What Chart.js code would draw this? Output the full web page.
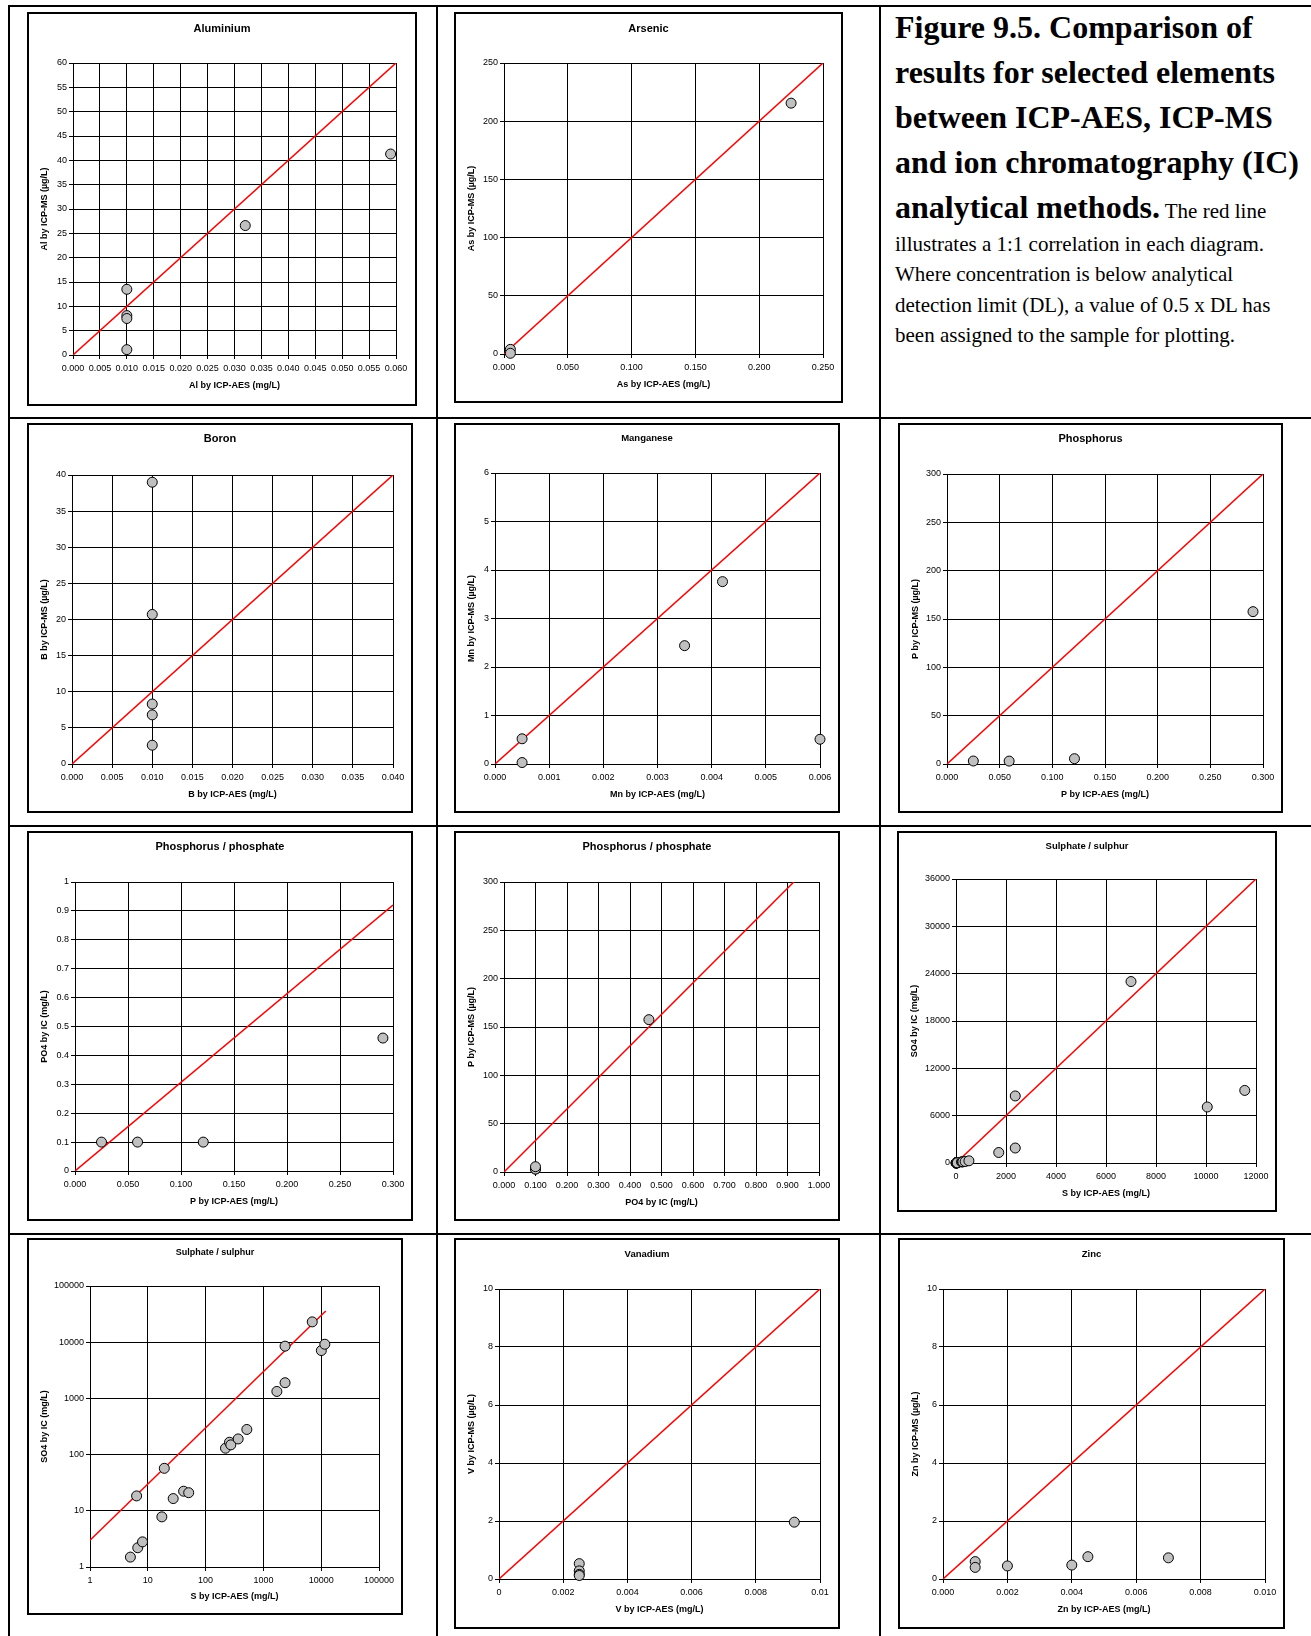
<!DOCTYPE html>
<html>
<head>
<meta charset="utf-8">
<title>Figure 9.5</title>
<script src="https://cdn.jsdelivr.net/npm/chart.js@4.4.1/dist/chart.umd.min.js"></script>
<style>
  html, body { margin: 0; padding: 0; background: #fff; }
  body { position: relative; width: 1311px; height: 1636px; overflow: hidden; }
  .rule { position: absolute; background: #000; }
  .box { position: absolute; border: 2px solid #000; box-sizing: border-box; }
  canvas { position: absolute; }
  .head { position: absolute; left: 895px; top: 5px; font-family: "Liberation Serif", "Times New Roman", serif;
          font-weight: bold; font-size: 32px; line-height: 45px; white-space: nowrap; color: #000; }
  .head span { font-weight: normal; font-size: 21px; }
  .note { position: absolute; left: 895px; top: 229px; font-family: "Liberation Serif", "Times New Roman", serif;
          font-size: 21px; line-height: 30.3px; white-space: nowrap; color: #000; }
</style>
</head>
<body>
<div class="rule" style="left:8px;top:5px;width:1303px;height:2px"></div>
<div class="rule" style="left:8px;top:5px;width:2px;height:1631px"></div>
<div class="rule" style="left:436px;top:5px;width:2px;height:1631px"></div>
<div class="rule" style="left:879px;top:5px;width:2px;height:1631px"></div>
<div class="rule" style="left:8px;top:417px;width:1303px;height:2px"></div>
<div class="rule" style="left:8px;top:825px;width:1303px;height:2px"></div>
<div class="rule" style="left:8px;top:1233px;width:1303px;height:2px"></div>

<div class="head">Figure 9.5. Comparison of<br>results for selected elements<br>between ICP-AES, ICP-MS<br>and ion chromatography (IC)<br>analytical methods.<span> The red line</span></div>
<div class="note">illustrates a 1:1 correlation in each diagram.<br>Where concentration is below analytical<br>detection limit (DL), a value of 0.5 x DL has<br>been assigned to the sample for plotting.</div>

<script>
// ---------- data ----------
const alAES = [0.010, 0.010, 0.010, 0.010, 0.032, 0.059];
const alMS = [13.5, 8.1, 7.5, 1.1, 26.6, 41.3];
const alLineX = [0, 0.06], alLineY = [0, 60];
const alTicksX = [0, 0.005, 0.01, 0.015, 0.02, 0.025, 0.03, 0.035, 0.04, 0.045, 0.05, 0.055, 0.06];
const alTicksY = [0, 5, 10, 15, 20, 25, 30, 35, 40, 45, 50, 55, 60];

const asAES = [0.005, 0.005, 0.225];
const asMS = [4, 0.6, 215.5];
const asLineX = [0, 0.25], asLineY = [0, 250];
const asTicksX = [0, 0.05, 0.1, 0.15, 0.2, 0.25];
const asTicksY = [0, 50, 100, 150, 200, 250];

const bAES = [0.010, 0.010, 0.010, 0.010, 0.010];
const bMS = [39, 20.7, 8.3, 6.8, 2.6];
const bLineX = [0, 0.04], bLineY = [0, 40];
const bTicksX = [0, 0.005, 0.01, 0.015, 0.02, 0.025, 0.03, 0.035, 0.04];
const bTicksY = [0, 5, 10, 15, 20, 25, 30, 35, 40];

const mnAES = [0.0005, 0.0005, 0.0035, 0.0042, 0.006];
const mnMS = [0.52, 0.03, 2.44, 3.76, 0.51];
const mnLineX = [0, 0.006], mnLineY = [0, 6];
const mnTicksX = [0, 0.001, 0.002, 0.003, 0.004, 0.005, 0.006];
const mnTicksY = [0, 1, 2, 3, 4, 5, 6];

const pAES = [0.025, 0.059, 0.121, 0.2905];
const pMS = [3.1, 3, 5.5, 157.6];
const po4IC = [0.1, 0.1, 0.1, 0.46];
const pLineX = [0, 0.3], pLineY = [0, 300];
const pTicksX = [0, 0.05, 0.1, 0.15, 0.2, 0.25, 0.3];
const pTicksY = [0, 50, 100, 150, 200, 250, 300];
const ppo4LineX = [0, 0.3], ppo4LineY = [0, 0.92];
const ppo4TicksY = [0, 0.1, 0.2, 0.3, 0.4, 0.5, 0.6, 0.7, 0.8, 0.9, 1];
const po4pLineX = [0, 0.92], po4pLineY = [0, 300];
const po4TicksX = [0, 0.1, 0.2, 0.3, 0.4, 0.5, 0.6, 0.7, 0.8, 0.9, 1];

const sAES = [5, 6.7, 8.1, 6.4, 17.5, 19.3, 27.5, 41.6, 51, 221, 259, 273, 366, 517, 1710, 2370, 2370, 7000, 10050, 11550];
const so4IC = [1.5, 2.2, 2.8, 18.4, 7.8, 57, 16.5, 22.3, 21, 130, 166, 149, 190, 280, 1330, 1900, 8500, 23000, 7100, 9200];
const sLineX = [0, 12000], sLineY = [0, 36000];
const sTicksX = [0, 2000, 4000, 6000, 8000, 10000, 12000];
const sTicksY = [0, 6000, 12000, 18000, 24000, 30000, 36000];
const sLogLineX = [1, 12000], sLogLineY = [3, 36000];
const logTicks = [1, 10, 100, 1000, 10000, 100000];

const vAES = [0.0025, 0.0025, 0.0025, 0.0025, 0.0092];
const vMS = [0.53, 0.28, 0.16, 0.12, 1.96];
const vLineX = [0, 0.01], vLineY = [0, 10];
const vTicksX = [0, 0.002, 0.004, 0.006, 0.008, 0.01];
const vTicksY = [0, 2, 4, 6, 8, 10];

const znAES = [0.001, 0.001, 0.002, 0.004, 0.0045, 0.007];
const znMS = [0.6, 0.4, 0.45, 0.48, 0.77, 0.73];
const znLineX = [0, 0.01], znLineY = [0, 10];

// ---------- helpers ----------
const SANS = '"Liberation Sans", Arial, sans-serif';
const fix3 = v => Number(v).toFixed(3);
const plain = v => String(Number(Number(v).toFixed(4)));

function pts(xs, ys) {
  return xs.map((x, i) => ({ x: x, y: ys[i] }));
}

function eje(tipo, ticks, fmt, size, horiz) {
  return {
    type: tipo,
    min: ticks[0],
    max: ticks[ticks.length - 1],
    afterBuildTicks: s => { s.ticks = ticks.map(v => ({ value: v })); },
    afterFit: s => { if (horiz) s.height = size; else s.width = size; },
    grid: { color: '#000', lineWidth: 1, tickLength: 4, tickColor: '#000' },
    border: { color: '#000', width: 1 },
    ticks: {
      autoSkip: false, maxRotation: 0, minRotation: 0,
      padding: horiz ? 4 : 2, color: '#000',
      font: { family: SANS, size: 9 },
      callback: v => fmt(v)
    }
  };
}

function grafico(c) {
  const [x0, y0, x1, y1] = c.box;
  const [px0, py0, px1, py1] = c.plot;
  const cv = document.createElement('canvas');
  cv.width = x1 - x0;
  cv.height = y1 - y0;
  cv.style.left = x0 + 'px';
  cv.style.top = y0 + 'px';
  document.body.appendChild(cv);
  const marco = document.createElement('div');
  marco.className = 'box';
  marco.style.cssText = `left:${x0}px;top:${y0}px;width:${x1 - x0}px;height:${y1 - y0}px`;
  document.body.appendChild(marco);

  const textos = {
    id: 'textos',
    afterDraw(chart) {
      const { ctx, chartArea: a } = chart;
      ctx.save();
      ctx.fillStyle = '#000';
      ctx.textAlign = 'center';
      ctx.textBaseline = 'middle';
      ctx.font = `bold ${c.titleSize}px ${SANS}`;
      ctx.fillText(c.title, chart.width / 2, c.titleY - y0);
      ctx.font = `bold 9px ${SANS}`;
      ctx.fillText(c.xTitle, (a.left + a.right) / 2, a.bottom + (c.xOff || 31));
      ctx.translate(18, (a.top + a.bottom) / 2);
      ctx.rotate(-Math.PI / 2);
      ctx.fillText(c.yTitle, 0, 0);
      ctx.restore();
    }
  };

  new Chart(cv, {
    type: 'scatter',
    data: {
      datasets: [
        {
          data: pts(c.x, c.y),
          pointRadius: 5, pointHoverRadius: 5,
          pointBackgroundColor: '#c0c0c0', pointBorderColor: '#000', pointBorderWidth: 1,
          clip: false, order: 0
        },
        {
          data: pts(c.lineX, c.lineY),
          showLine: true, borderColor: '#ff0000', borderWidth: 1.5,
          pointRadius: 0, order: 1
        }
      ]
    },
    options: {
      responsive: false, animation: false, devicePixelRatio: 1,
      layout: { padding: { left: 0, top: py0 - y0, right: x1 - px1, bottom: 0 } },
      plugins: { legend: { display: false }, tooltip: { enabled: false } },
      scales: {
        x: eje(c.log ? 'logarithmic' : 'linear', c.ticksX, c.fmtX, y1 - py1, true),
        y: eje(c.log ? 'logarithmic' : 'linear', c.ticksY, c.fmtY, px0 - x0, false)
      }
    },
    plugins: [textos]
  });
}

// ---------- paneles ----------
grafico({ title: 'Aluminium', titleSize: 11, titleY: 28.5, box: [27, 12, 417, 406], plot: [73, 63, 396, 355],
  x: alAES, y: alMS, lineX: alLineX, lineY: alLineY, ticksX: alTicksX, ticksY: alTicksY, fmtX: fix3, fmtY: plain,
  xTitle: 'Al by ICP-AES (mg/L)', yTitle: 'Al by ICP-MS (\u00b5g/L)' });

grafico({ title: 'Arsenic', titleSize: 11, titleY: 28.5, box: [454, 12, 843, 403], plot: [504, 63, 823, 354],
  x: asAES, y: asMS, lineX: asLineX, lineY: asLineY, ticksX: asTicksX, ticksY: asTicksY, fmtX: fix3, fmtY: plain,
  xTitle: 'As by ICP-AES (mg/L)', yTitle: 'As by ICP-MS (\u00b5g/L)' });

grafico({ title: 'Boron', titleSize: 11, titleY: 439, box: [27, 423, 413, 813], plot: [72, 475, 393, 764],
  x: bAES, y: bMS, lineX: bLineX, lineY: bLineY, ticksX: bTicksX, ticksY: bTicksY, fmtX: fix3, fmtY: plain,
  xTitle: 'B by ICP-AES (mg/L)', yTitle: 'B by ICP-MS (\u00b5g/L)' });

grafico({ title: 'Manganese', titleSize: 9.5, titleY: 438, box: [454, 423, 840, 813], plot: [495, 473, 820, 764],
  x: mnAES, y: mnMS, lineX: mnLineX, lineY: mnLineY, ticksX: mnTicksX, ticksY: mnTicksY, fmtX: fix3, fmtY: plain,
  xTitle: 'Mn by ICP-AES (mg/L)', yTitle: 'Mn by ICP-MS (\u00b5g/L)' });

grafico({ title: 'Phosphorus', titleSize: 11, titleY: 439, box: [898, 423, 1283, 813], plot: [947, 474, 1263, 764],
  x: pAES, y: pMS, lineX: pLineX, lineY: pLineY, ticksX: pTicksX, ticksY: pTicksY, fmtX: fix3, fmtY: plain,
  xTitle: 'P by ICP-AES (mg/L)', yTitle: 'P by ICP-MS (\u00b5g/L)' });

grafico({ title: 'Phosphorus / phosphate', titleSize: 11, titleY: 847, box: [27, 831, 413, 1221], plot: [75, 882, 393, 1171],
  x: pAES, y: po4IC, lineX: ppo4LineX, lineY: ppo4LineY, ticksX: pTicksX, ticksY: ppo4TicksY, fmtX: fix3, fmtY: plain,
  xTitle: 'P by ICP-AES (mg/L)', yTitle: 'PO4 by IC (mg/L)' });

grafico({ title: 'Phosphorus / phosphate', titleSize: 11, titleY: 847, box: [454, 831, 840, 1221], plot: [504, 882, 819, 1172],
  x: po4IC, y: pMS, lineX: po4pLineX, lineY: po4pLineY, ticksX: po4TicksX, ticksY: pTicksY, fmtX: fix3, fmtY: plain,
  xTitle: 'PO4 by IC (mg/L)', yTitle: 'P by ICP-MS (\u00b5g/L)' });

grafico({ title: 'Sulphate / sulphur', titleSize: 9.5, titleY: 846, box: [897, 831, 1277, 1212], plot: [956, 879, 1256, 1163],
  x: sAES, y: so4IC, lineX: sLineX, lineY: sLineY, ticksX: sTicksX, ticksY: sTicksY, fmtX: plain, fmtY: plain,
  xTitle: 'S by ICP-AES (mg/L)', yTitle: 'SO4 by IC (mg/L)' });

grafico({ title: 'Sulphate / sulphur', titleSize: 9, titleY: 1253, box: [27, 1238, 403, 1615], plot: [90, 1286, 379, 1567],
  log: true, xOff: 30,
  x: sAES, y: so4IC, lineX: sLogLineX, lineY: sLogLineY, ticksX: logTicks, ticksY: logTicks, fmtX: plain, fmtY: plain,
  xTitle: 'S by ICP-AES (mg/L)', yTitle: 'SO4 by IC (mg/L)' });

grafico({ title: 'Vanadium', titleSize: 9.5, titleY: 1254, box: [454, 1238, 840, 1629], plot: [499, 1289, 820, 1579],
  x: vAES, y: vMS, lineX: vLineX, lineY: vLineY, ticksX: vTicksX, ticksY: vTicksY, fmtX: plain, fmtY: plain,
  xTitle: 'V by ICP-AES (mg/L)', yTitle: 'V by ICP-MS (\u00b5g/L)' });

grafico({ title: 'Zinc', titleSize: 9.5, titleY: 1254, box: [898, 1238, 1285, 1629], plot: [943, 1289, 1265, 1579],
  x: znAES, y: znMS, lineX: znLineX, lineY: znLineY, ticksX: vTicksX, ticksY: vTicksY, fmtX: fix3, fmtY: plain,
  xTitle: 'Zn by ICP-AES (mg/L)', yTitle: 'Zn by ICP-MS (\u00b5g/L)' });
</script>
</body>
</html>
